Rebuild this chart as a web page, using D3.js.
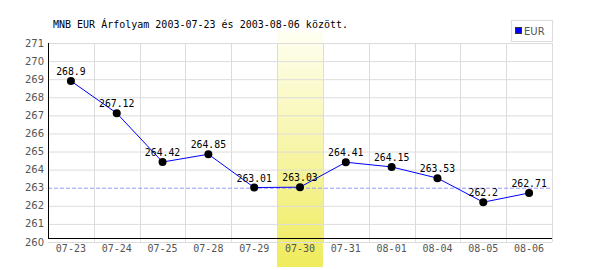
<!DOCTYPE html>
<html>
<head>
<meta charset="utf-8">
<script src="https://cdn.jsdelivr.net/npm/d3@7"></script>
<style>
  body { margin: 0; background: #fff; }
  svg { display: block; }
</style>
</head>
<body>
<div id="chart"></div>
<script>
// Data
const dates = ["07-23", "07-24", "07-25", "07-28", "07-29", "07-30", "07-31", "08-01", "08-04", "08-05", "08-06"];
const eurValues = [268.9, 267.12, 264.42, 264.85, 263.01, 263.03, 264.41, 264.15, 263.53, 262.2, 262.71];
const yTicks = [260, 261, 262, 263, 264, 265, 266, 267, 268, 269, 270, 271];
const highlightDate = "07-30";
const refValue = 263;
const title = "MNB EUR Árfolyam 2003-07-23 és 2003-08-06 között.";
const seriesName = "EUR";

const width = 600;
const height = 270;
const margin = {top: 43, right: 48, bottom: 28, left: 48};

const svg = d3.select("#chart")
    .append("svg")
    .attr("width", width)
    .attr("height", height);

const xScale = d3.scaleBand()
    .domain(dates)
    .range([margin.left, width - margin.right])
    .padding(0);

const yScale = d3.scaleLinear()
    .domain([260, 271])
    .range([height - margin.bottom, margin.top]);

const cx = d => xScale(d) + xScale.bandwidth() / 2;

// Highlight band with gradient
const defs = svg.append("defs");
const grad = defs.append("linearGradient")
    .attr("id", "hl")
    .attr("x1", 0).attr("y1", 0).attr("x2", 0).attr("y2", 1);
grad.append("stop").attr("offset", "0%").attr("stop-color", "#fffff2");
grad.append("stop").attr("offset", "100%").attr("stop-color", "#efeb5c");

svg.append("rect")
    .attr("x", xScale(highlightDate))
    .attr("y", 31)
    .attr("width", xScale.bandwidth())
    .attr("height", 267 - 31)
    .attr("fill", "url(#hl)");

// Horizontal gridlines
svg.append("g")
    .selectAll("line")
    .data(yTicks.filter(t => t !== refValue))
    .join("line")
    .attr("x1", margin.left)
    .attr("x2", width - margin.right)
    .attr("y1", d => yScale(d) + 0.5)
    .attr("y2", d => yScale(d) + 0.5)
    .attr("stroke", "#dcdcdc");

// Vertical gridlines at band edges
const edges = dates.slice(1).map(d => xScale(d)).concat([width - margin.right]);
svg.append("g")
    .selectAll("line")
    .data(edges)
    .join("line")
    .attr("x1", d => Math.round(d) + 0.5)
    .attr("x2", d => Math.round(d) + 0.5)
    .attr("y1", yScale(271))
    .attr("y2", yScale(260))
    .attr("stroke", "#dcdcdc");

// Reference dashed line
svg.append("line")
    .attr("x1", margin.left)
    .attr("x2", width - margin.right)
    .attr("y1", yScale(refValue) + 0.5)
    .attr("y2", yScale(refValue) + 0.5)
    .attr("stroke", "#9a9aff")
    .attr("stroke-dasharray", "4,2");

// Axes lines
const axisY = yScale(260) - 4;
svg.append("line")
    .attr("x1", margin.left + 0.5).attr("x2", margin.left + 0.5)
    .attr("y1", yScale(271)).attr("y2", axisY)
    .attr("stroke", "#000");
svg.append("line")
    .attr("x1", margin.left).attr("x2", width - margin.right)
    .attr("y1", axisY + 0.5).attr("y2", axisY + 0.5)
    .attr("stroke", "#000")
    .attr("stroke-width", 1.2);

// Y tick labels
svg.append("g")
    .selectAll("text")
    .data(yTicks)
    .join("text")
    .attr("x", margin.left - 4)
    .attr("y", d => yScale(d))
    .attr("dy", "0.35em")
    .attr("text-anchor", "end")
    .attr("fill", "#555")
    .style("font-family", "DejaVu Sans, sans-serif")
    .style("font-size", "10px")
    .text(d => d);

// X tick labels
svg.append("g")
    .selectAll("text")
    .data(dates)
    .join("text")
    .attr("x", d => cx(d))
    .attr("y", yScale(260) + 10)
    .attr("text-anchor", "middle")
    .attr("fill", "#555")
    .style("font-family", "DejaVu Sans Mono, monospace")
    .style("font-size", "10px")
    .text(d => d);

// Line
const rows = dates.map((d, i) => ({date: d, value: eurValues[i]}));
const line = d3.line()
    .x(d => cx(d.date))
    .y(d => yScale(d.value));

svg.append("path")
    .datum(rows)
    .attr("fill", "none")
    .attr("stroke", "#0000ff")
    .attr("stroke-width", 1)
    .attr("d", line);

// Markers
svg.selectAll("circle.pt")
    .data(rows)
    .join("circle")
    .attr("class", "pt")
    .attr("cx", d => cx(d.date))
    .attr("cy", d => yScale(d.value))
    .attr("r", 4)
    .attr("fill", "#000");

// Value labels
svg.append("g")
    .selectAll("text")
    .data(rows)
    .join("text")
    .attr("x", d => cx(d.date))
    .attr("y", d => yScale(d.value) - 6)
    .attr("text-anchor", "middle")
    .attr("fill", "#000")
    .style("font-family", "DejaVu Sans Mono, monospace")
    .style("font-size", "9.8px")
    .text(d => d.value);

// Title
svg.append("text")
    .attr("x", 53)
    .attr("y", 28)
    .attr("fill", "#000")
    .style("font-family", "DejaVu Sans Mono, monospace")
    .style("font-size", "10px")
    .text(title);

// Legend
const legend = svg.append("g");
legend.append("rect")
    .attr("x", 511.5).attr("y", 20.5)
    .attr("width", 41).attr("height", 21)
    .attr("fill", "#fff")
    .attr("stroke", "#dcdcdc");
legend.append("rect")
    .attr("x", 515.5).attr("y", 27.5)
    .attr("width", 6).attr("height", 6)
    .attr("fill", "#0000ff")
    .attr("stroke", "#333");
legend.append("text")
    .attr("x", 524)
    .attr("y", 34.5)
    .attr("fill", "#555")
    .style("font-family", "DejaVu Sans, sans-serif")
    .style("font-size", "10px")
    .text(seriesName);
</script>
</body>
</html>
